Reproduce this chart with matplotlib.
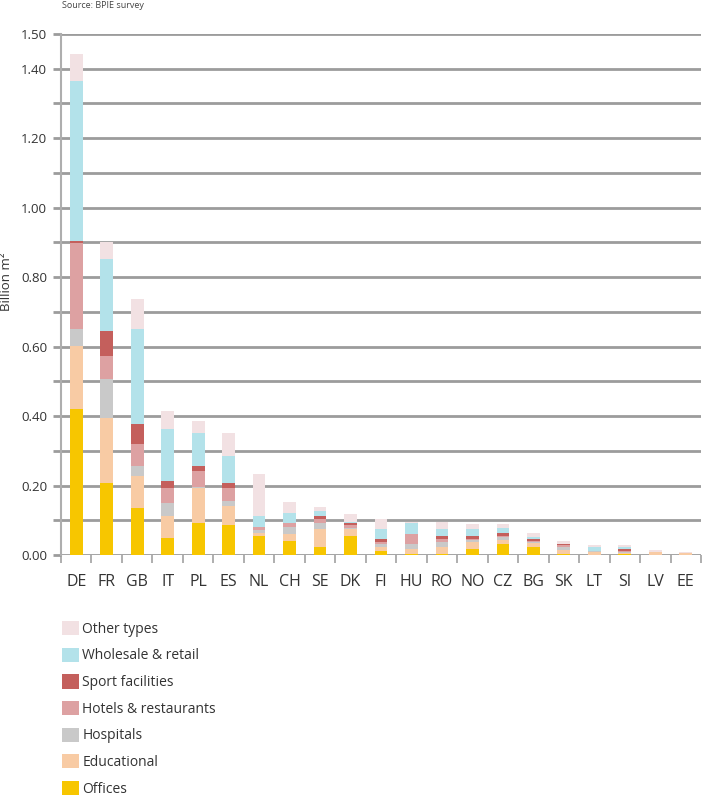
import numpy as np
import matplotlib
matplotlib.use("Agg")
import matplotlib.pyplot as plt
from matplotlib.patches import Patch

plt.rcParams['font.family'] = ['Open Sans', 'DejaVu Sans']

countries = ["DE", "FR", "GB", "IT", "PL", "ES", "NL", "CH", "SE", "DK", "FI",
             "HU", "RO", "NO", "CZ", "BG", "SK", "LT", "SI", "LV", "EE"]

# segment values (billion m2)
offices = [0.421, 0.206, 0.134, 0.049, 0.091, 0.085, 0.054, 0.039, 0.024, 0.054, 0.012,
           0.003, 0.002, 0.018, 0.032, 0.023, 0.002, 0.001, 0.003, 0.000, 0.000]
educational = [0.181, 0.187, 0.093, 0.063, 0.101, 0.055, 0.010, 0.022, 0.052, 0.022, 0.012,
               0.015, 0.022, 0.020, 0.012, 0.012, 0.013, 0.007, 0.004, 0.010, 0.007]
hospitals = [0.048, 0.114, 0.030, 0.037, 0.005, 0.015, 0.008, 0.021, 0.017, 0.003, 0.007,
             0.013, 0.014, 0.005, 0.008, 0.002, 0.009, 0.004, 0.002, 0.000, 0.000]
hotels = [0.248, 0.065, 0.064, 0.043, 0.045, 0.037, 0.008, 0.011, 0.010, 0.008, 0.007,
          0.029, 0.008, 0.004, 0.003, 0.003, 0.006, 0.000, 0.002, 0.000, 0.000]
sport = [0.006, 0.072, 0.057, 0.020, 0.014, 0.014, 0.000, 0.000, 0.008, 0.004, 0.008,
         0.000, 0.008, 0.008, 0.007, 0.005, 0.002, 0.000, 0.005, 0.000, 0.000]
wholesale = [0.460, 0.209, 0.274, 0.152, 0.095, 0.078, 0.033, 0.027, 0.016, 0.004, 0.030,
             0.031, 0.020, 0.019, 0.015, 0.008, 0.001, 0.012, 0.008, 0.000, 0.000]
other = [0.077, 0.048, 0.085, 0.050, 0.035, 0.067, 0.120, 0.034, 0.011, 0.022, 0.029,
         0.004, 0.021, 0.016, 0.013, 0.009, 0.006, 0.006, 0.006, 0.005, 0.001]

series = [
    ("Offices", offices, "#F7C600"),
    ("Educational", educational, "#F8CBA4"),
    ("Hospitals", hospitals, "#C9C9C9"),
    ("Hotels & restaurants", hotels, "#DDA1A2"),
    ("Sport facilities", sport, "#C45F5C"),
    ("Wholesale & retail", wholesale, "#B3E2EA"),
    ("Other types", other, "#F2E1E3"),
]

yticks = np.round(np.arange(0, 1.51, 0.1), 2)
ylabels = ["0.00", "", "0.20", "", "0.40", "", "0.60", "", "0.80", "", "1.00",
           "", "1.20", "", "1.40", "1.50"]

W, H = 708, 797
fig = plt.figure(figsize=(W / 100, H / 100), dpi=100)
ax = fig.add_axes([61 / W, 1 - 555 / H, (701 - 61) / W, (555 - 34) / H])

x = np.arange(len(countries))
bottom = np.zeros(len(countries))
handles = []
for name, vals, col in series:
    vals = np.array(vals)
    ax.bar(x, vals, bottom=bottom, width=0.42, color=col, zorder=3)
    bottom += vals
    handles.append(Patch(facecolor=col, label=name))

grid_col = "#9C9C9C"
ax.set_xlim(-0.5, len(countries) - 0.5)
ax.set_ylim(0, 1.5)
ax.set_yticks(yticks)
ax.set_yticklabels(ylabels)
for v in yticks:
    ax.axhline(v, color=grid_col, lw=2.0, zorder=1)
ax.tick_params(axis="y", length=6, width=2.0, color=grid_col, labelsize=9.5,
               labelcolor="#333333", pad=4)

ax.set_xticks(x)
ax.set_xticklabels(countries)
ax.set_xticks(np.arange(-0.5, len(countries), 1), minor=True)
ax.tick_params(axis="x", which="major", length=0, labelsize=11.5,
               labelcolor="#333333", pad=14)
ax.tick_params(axis="x", which="minor", length=6, width=1.3, color="#A8A8A8")

for s in ["top", "right", "bottom"]:
    ax.spines[s].set_visible(False)
ax.spines["left"].set_color("#AEAEAE")
ax.spines["left"].set_linewidth(1.5)

fig.text(7 / W, 1 - 282 / H, "Billion m²", rotation=90, ha="center",
         va="center", fontsize=9.5, color="#333333")
fig.text(62 / W, 1 - 6 / H, "Source: BPIE survey", ha="left", va="center",
         fontsize=6.5, color="#444444")

fig.legend(handles[::-1], [h.get_label() for h in handles[::-1]],
           loc="upper left", bbox_to_anchor=(62 / W, 1 - 621 / H),
           frameon=False, fontsize=10, handlelength=1.2, handleheight=1.2,
           handletextpad=0.25, labelspacing=0.78, borderpad=0, borderaxespad=0,
           labelcolor="#333333")

fig.savefig("out.png", dpi=100)
